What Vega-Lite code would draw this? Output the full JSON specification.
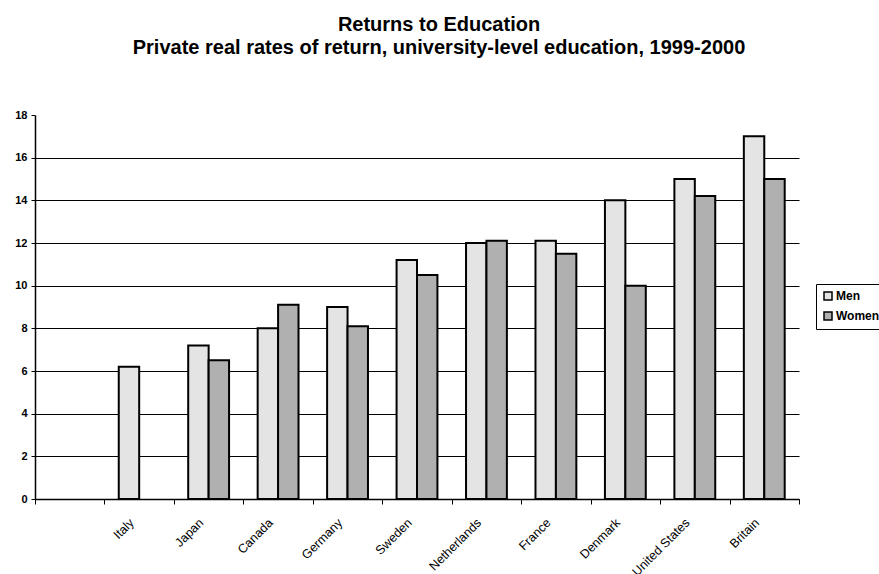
{
  "$schema": "https://vega.github.io/schema/vega-lite/v6.json",
  "autosize": {"type": "none"},
  "width": 764,
  "height": 384,
  "padding": {"left": 35, "top": 115, "right": 80, "bottom": 75},
  "background": "white",
  "title": {
    "text": ["Returns to Education", "Private real rates of return, university-level education, 1999-2000"],
    "font": "Liberation Sans",
    "fontSize": 20,
    "fontWeight": "bold",
    "color": "black",
    "lineHeight": 23,
    "anchor": "middle",
    "frame": "group",
    "dx": 22,
    "offset": 51
  },
  "data": {
    "values": [
      {"country": "Italy", "sex": "Men", "value": 6.2},
      {"country": "Japan", "sex": "Men", "value": 7.2},
      {"country": "Japan", "sex": "Women", "value": 6.5},
      {"country": "Canada", "sex": "Men", "value": 8.0},
      {"country": "Canada", "sex": "Women", "value": 9.1},
      {"country": "Germany", "sex": "Men", "value": 9.0},
      {"country": "Germany", "sex": "Women", "value": 8.1},
      {"country": "Sweden", "sex": "Men", "value": 11.2},
      {"country": "Sweden", "sex": "Women", "value": 10.5},
      {"country": "Netherlands", "sex": "Men", "value": 12.0},
      {"country": "Netherlands", "sex": "Women", "value": 12.1},
      {"country": "France", "sex": "Men", "value": 12.1},
      {"country": "France", "sex": "Women", "value": 11.5},
      {"country": "Denmark", "sex": "Men", "value": 14.0},
      {"country": "Denmark", "sex": "Women", "value": 10.0},
      {"country": "United States", "sex": "Men", "value": 15.0},
      {"country": "United States", "sex": "Women", "value": 14.2},
      {"country": "Britain", "sex": "Men", "value": 17.0},
      {"country": "Britain", "sex": "Women", "value": 15.0}
    ]
  },
  "mark": {"type": "bar", "stroke": "black", "strokeWidth": 2},
  "encoding": {
    "x": {
      "field": "country",
      "type": "nominal",
      "scale": {
        "domain": [" ", "Italy", "Japan", "Canada", "Germany", "Sweden", "Netherlands", "France", "Denmark", "United States", "Britain"],
        "paddingInner": 0,
        "paddingOuter": 0
      },
      "axis": {
        "title": null,
        "labelAngle": -45,
        "labelBaseline": "top",
        "labelFont": "Liberation Sans",
        "labelFontSize": 12.5,
        "labelColor": "black",
        "labelPadding": 12,
        "labelOffset": -12,
        "tickBand": "extent",
        "tickSize": 5,
        "tickColor": "black",
        "domainColor": "black",
        "domainWidth": 1.5
      }
    },
    "xOffset": {
      "field": "sex",
      "type": "nominal",
      "sort": ["Men", "Women"],
      "scale": {"paddingInner": 0, "paddingOuter": 0.7}
    },
    "y": {
      "field": "value",
      "type": "quantitative",
      "scale": {"domain": [0, 18], "nice": false},
      "axis": {
        "title": null,
        "values": [0, 2, 4, 6, 8, 10, 12, 14, 16, 18],
        "grid": true,
        "gridColor": "black",
        "gridWidth": 1,
        "gridOpacity": {"condition": {"test": "datum.value == 18", "value": 0}, "value": 1},
        "labelFont": "Liberation Sans",
        "labelFontSize": 11,
        "labelFontWeight": "bold",
        "labelColor": "black",
        "labelPadding": 4,
        "tickSize": 4,
        "tickColor": "black",
        "domainColor": "black",
        "domainWidth": 1.5
      }
    },
    "fill": {
      "field": "sex",
      "type": "nominal",
      "scale": {"domain": ["Men", "Women"], "range": ["#e4e4e4", "#b0b0b0"]},
      "legend": {
        "title": null,
        "orient": "none",
        "legendX": 781,
        "legendY": 169,
        "symbolType": "square",
        "symbolSize": 64,
        "symbolStrokeColor": "black",
        "symbolStrokeWidth": 1.5,
        "labelFont": "Liberation Sans",
        "labelFontSize": 12,
        "labelFontWeight": "bold",
        "labelColor": "black",
        "strokeColor": "black",
        "padding": 6,
        "rowPadding": 6,
        "labelOffset": 2
      }
    }
  },
  "config": {"view": {"stroke": null}}
}
